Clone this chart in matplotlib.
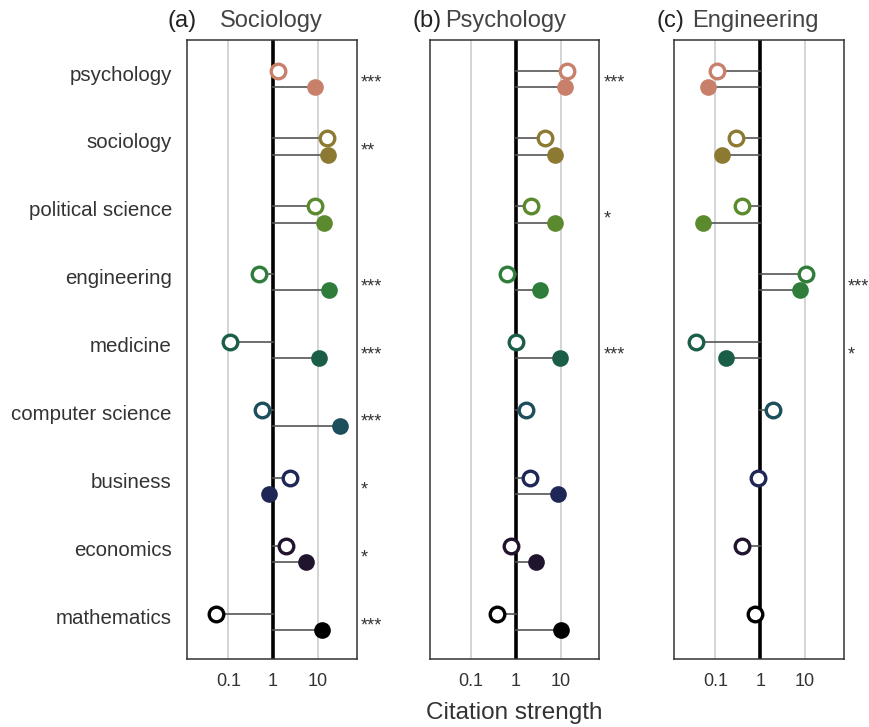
import numpy as np
import matplotlib
matplotlib.use("Agg")
import matplotlib.pyplot as plt
from matplotlib.transforms import ScaledTranslation

plt.rcParams['font.family'] = ['Liberation Sans', 'DejaVu Sans']

fields = ["psychology", "sociology", "political science", "engineering",
          "medicine", "computer science", "business", "economics", "mathematics"]
colors = ["#c8806a", "#8c7a32", "#5b8a2e", "#2f7d3b", "#1b5e47",
          "#1d4e5c", "#1f2757", "#21142f", "#000000"]

panels = ["Sociology", "Psychology", "Engineering"]
letters = ["(a)", "(b)", "(c)"]

# open markers (first value) and filled markers (second value), per panel
soc_open = [1.3, 16, 8.8, 0.48, 0.108, 0.56, 2.4, 1.96, 0.052]
soc_fill = [8.8, 16.6, 14, 18, 10.4, 31, 0.83, 5.5, 12.4]
psy_open = [14, 4.4, 2.15, 0.63, 1.0, 1.73, 2.05, 0.8, 0.38]
psy_fill = [12.3, 7.6, 7.6, 3.5, 9.7, np.nan, 8.7, 2.8, 10.3]
eng_open = [0.107, 0.29, 0.4, 10.7, 0.037, 1.95, 0.9, 0.4, 0.76]
eng_fill = [0.067, 0.138, 0.054, 7.7, 0.17, np.nan, np.nan, np.nan, np.nan]

soc_stars = ["***", "**", "", "***", "***", "***", "*", "*", "***"]
psy_stars = ["***", "", "*", "", "***", "", "", "", ""]
eng_stars = ["", "", "", "***", "*", "", "", "", ""]

opens = [soc_open, psy_open, eng_open]
fills = [soc_fill, psy_fill, eng_fill]
stars = [soc_stars, psy_stars, eng_stars]

txt = "#333333"
fig = plt.figure(figsize=(8.7, 7.27), dpi=100)
lefts = [0.215, 0.494, 0.775]
title_x = [(-0.118, 0.194), (-0.10, 0.088), (-0.107, 0.105)]
off = 0.12
ypos = np.arange(len(fields))

for k in range(3):
    ax = fig.add_axes([lefts[k], 0.0935, 0.195, 0.8515])
    ax.set_xscale("log")
    ax.set_xlim(0.012, 74)
    ax.set_ylim(8.55, -0.57)
    for g in [0.1, 10]:
        ax.axvline(g, color="#d4d4d4", lw=1.4, zorder=0)
    ax.axvline(1, color="black", lw=2.6, zorder=1)

    for i in range(len(fields)):
        c = colors[i]
        vo = opens[k][i]
        vf = fills[k][i]
        if not np.isnan(vo):
            ax.plot([1, vo], [i - off, i - off], color="#555555", lw=1.2, zorder=2)
            ax.plot(vo, i - off, "o", ms=10.5, mfc="white", mec=c, mew=2.4, zorder=3)
        if not np.isnan(vf):
            ax.plot([1, vf], [i + off, i + off], color="#555555", lw=1.2, zorder=2)
            ax.plot(vf, i + off, "o", ms=12, mfc=c, mec=c, mew=0, zorder=3)
        if stars[k][i]:
            ax.text(1.025, i + 0.13, stars[k][i], transform=ax.get_yaxis_transform(),
                    fontsize=13, color=txt, ha="left", va="baseline", clip_on=False)

    ax.set_xticks([0.1, 1, 10])
    ax.set_xticklabels(["0.1", "1", "10"])
    ax.xaxis.set_minor_locator(matplotlib.ticker.NullLocator())
    ax.tick_params(axis="x", length=0, pad=10, labelsize=13, labelcolor=txt)
    ax.set_yticks(ypos)
    if k == 0:
        ax.set_yticklabels(fields)
        ax.tick_params(axis="y", length=0, pad=11, labelsize=14.8, labelcolor=txt)
        shift = ScaledTranslation(0, 4 / 72, fig.dpi_scale_trans)
        for lab in ax.get_yticklabels():
            lab.set_transform(lab.get_transform() + shift)
    else:
        ax.set_yticklabels([])
        ax.tick_params(axis="y", length=0)
    for s in ax.spines.values():
        s.set_color("#333333")
        s.set_linewidth(1.1)

    ax.text(title_x[k][0], 1.021, letters[k], transform=ax.transAxes,
            fontsize=17, color="#222222", ha="left", va="baseline")
    ax.text(title_x[k][1], 1.021, panels[k], transform=ax.transAxes,
            fontsize=17, color="#444444", ha="left", va="baseline")

    if k == 1:
        ax.set_xlabel("Citation strength", fontsize=17.5, color=txt, labelpad=9)

fig.savefig("out.png", dpi=100)
